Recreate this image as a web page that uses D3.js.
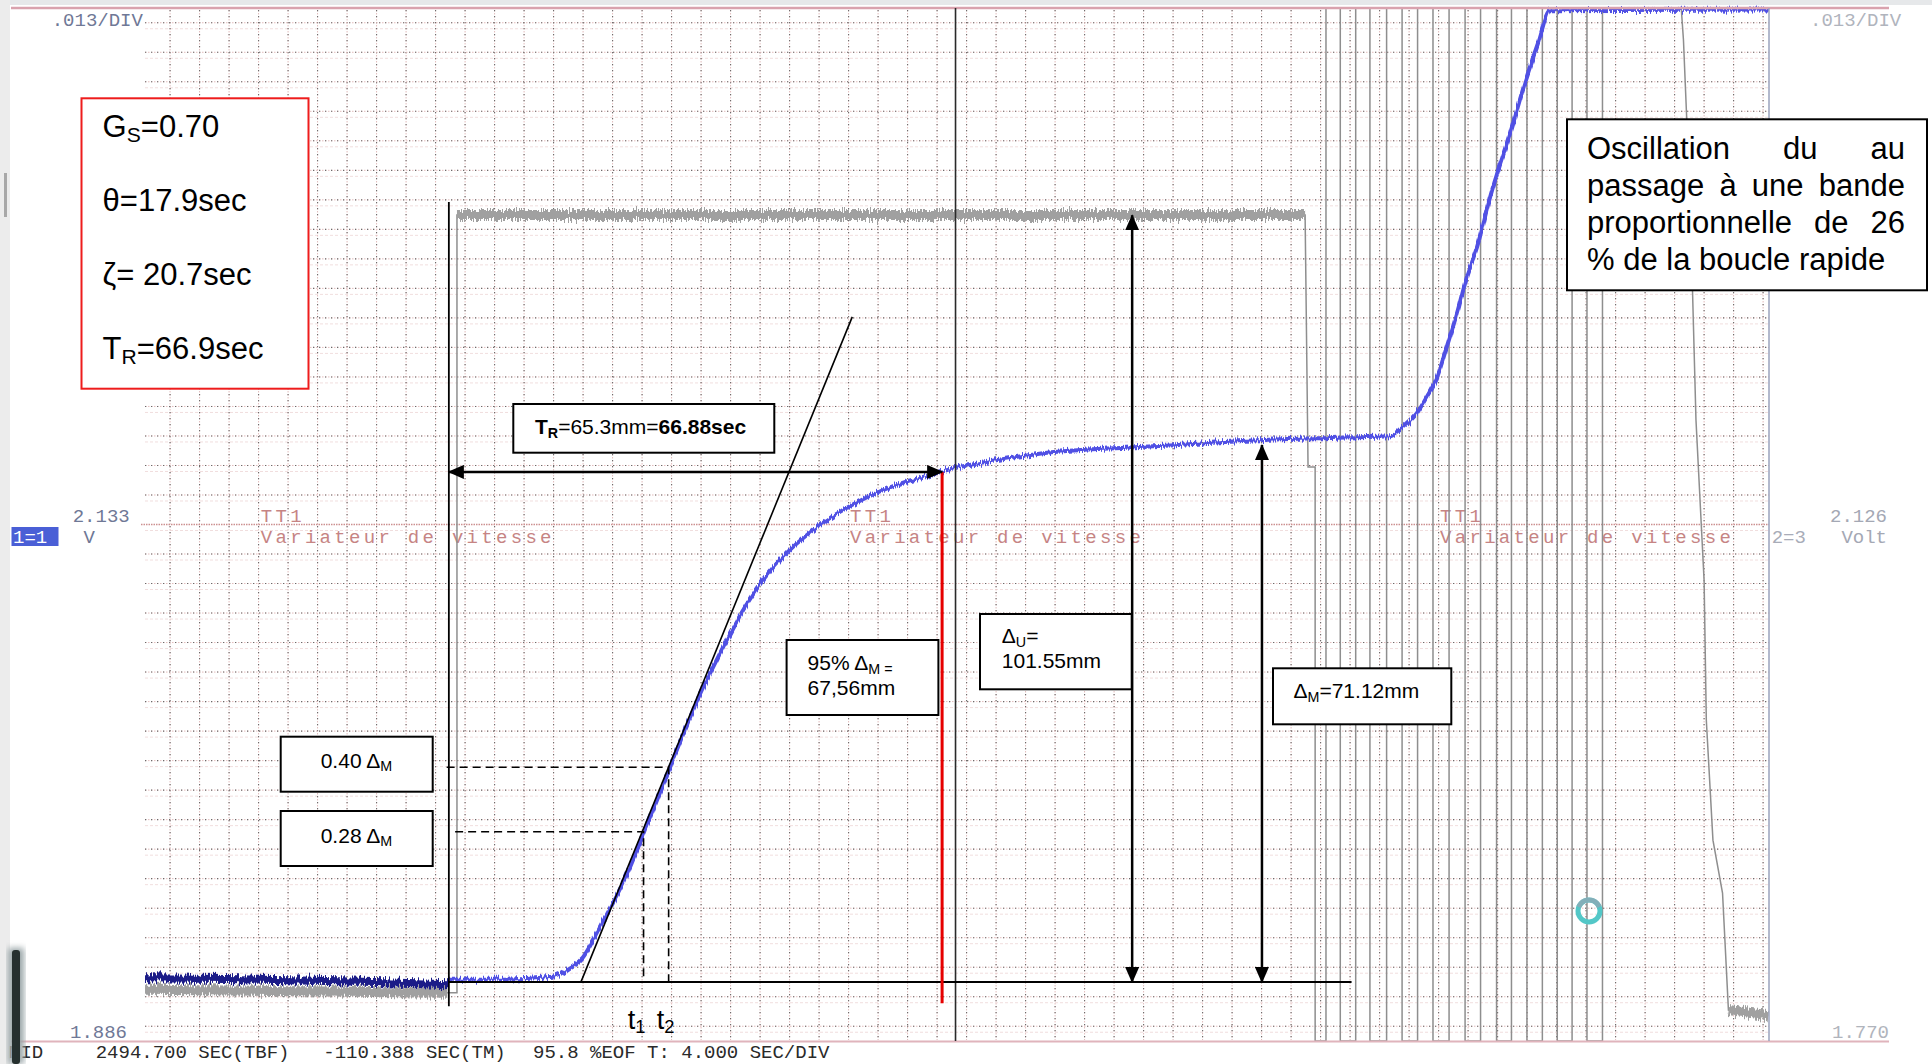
<!DOCTYPE html>
<html>
<head>
<meta charset="utf-8">
<title>TT1 Variateur de vitesse - réponse indicielle</title>
<script src="https://cdn.jsdelivr.net/npm/d3@7/dist/d3.min.js"></script>
<style>
  html, body { margin: 0; padding: 0; background: #fff; overflow: hidden; }
  svg { display: block; }
  .mono { font-family: "Liberation Mono", "DejaVu Sans Mono", monospace; }
  .sans { font-family: "Liberation Sans", Arial, sans-serif; }
</style>
</head>
<body>
<svg id="chart" width="1932" height="1064"></svg>
<script>
(function () {
    'use strict';

    // time: seconds from the step (recorder at 4 s / division)
    // level: mm of chart above the starting value

    var blueDarkTime  = [-41.2, -30, -20, -10, 0];
    var blueDarkLevel = [0.5, 0.4, 0.2, 0.0, -0.3];

    var blueTime  = [0, 7.0, 14.1, 16.4, 18.2, 19.6, 21.5, 23.2, 25.9, 27.7, 30.0, 33.2, 37.3, 40.3,
                     42.8, 45.9, 48.8, 51.3, 54.9, 58.5, 62.1, 65.8, 68.3, 74.2, 80.3, 92.4, 98.5,
                     108.1, 120.4, 127.7, 129.4, 131.3, 132.6, 134.0, 135.3, 136.7, 138.0, 139.4,
                     141.2, 143.9, 146.0, 147.7, 149.3, 179.0];
    var blueLevel = [0.3, 0.3, 0.7, 1.9, 3.3, 5.6, 9.1, 12.2, 18.4, 22.8, 28.5, 36.2, 44.6, 49.9,
                     53.5, 56.9, 59.4, 61.2, 63.3, 65.0, 66.3, 67.3, 68.0, 69.1, 70.0, 70.8, 71.1,
                     71.7, 72.1, 72.3, 73.5, 75.4, 77.5, 80.1, 84.1, 88.6, 93.4, 97.3,
                     104.0, 112.4, 119.4, 124.4, 128.7, 128.8];

    var greyTime  = [-41.2, -0.2, 1.1, 1.1, 116.1, 116.5, 117.46];
    var greyLevel = [-1.0, -1.4, -1.4, 101.6, 101.6, 68.2, 68.2];

    // square wave of the oscillation, alternating down / up edges
    var oscEdges = [117.46, 118.93, 120.87, 122.96, 124.89, 127.15, 129.25, 131.35, 133.44, 135.62,
                    137.79, 139.89, 142.06, 144.08, 146.18, 148.27, 150.29, 152.30, 154.32, 156.42];
    var oscLow = -7.8, oscHigh = 129;

    var greyTailTime  = [167.1, 167.4, 168.3, 169.1, 170.2, 170.5, 171.4, 172.7, 173.5, 178.9];
    var greyTailLevel = [129, 124.8, 103.6, 74.4, 53.2, 34.7, 18.8, 11.8, -3.7, -4.4];

    var deltaM = 71.12, deltaU = 101.55, riseTime = 66.88, deadTime = 17.9;
    var t1 = 26.4, t2 = 29.8;
    var fractions = [0.28, 0.40];
    var fractionTimes = [t1, t2];
    var fractionStart = [0.85, -0.3];
    var tangentTop = [54.7, 88.1];
    var cursorTime = 68.7;
    var deltaUTime = 92.65, deltaMTime = 110.25;
    var baselineEnd = 122.4;
    var stepSpan = [-3.2, 103.3];
    var redBottom = -2.8;

    var paramLines = [['G', 'S', '=0.70'], ['\u03b8', '', '=17.9sec'], ['\u03b6', '', '= 20.7sec'], ['T', 'R', '=66.9sec']];
    var noteLines = ['Oscillation du au', 'passage \u00e0 une bande', 'proportionnelle de 26', '% de la boucle rapide'];
    var statusParts = ['MID', '2494.700 SEC(TBF)', '-110.388 SEC(TM)', '95.8 %EOF T: 4.000 SEC/DIV'];
    var channelName = ['TT1', 'Variateur de vitesse'];
    var channelTimes = [-25.5, 54.4, 134.4];

    var svg = d3.select('#chart');
    var x = d3.scaleLinear().domain([-41.2, 179.0]).range([145, 1769]);
    var y = d3.scaleLinear().domain([-7.8, 129]).range([1041, 8]);
    var div = d3.scaleLinear().domain([0, 35]).range([1041, 8]);

    var defs = svg.append('defs');

    function jitter(id, amount, seed) {
        var f = defs.append('filter').attr('id', id)
            .attr('filterUnits', 'userSpaceOnUse')
            .attr('x', 0).attr('y', 0).attr('width', 1932).attr('height', 1064)
            .attr('color-interpolation-filters', 'sRGB');
        f.append('feTurbulence').attr('type', 'fractalNoise')
            .attr('baseFrequency', '0.85 0.02').attr('numOctaves', 2)
            .attr('seed', seed).attr('result', 'n');
        f.append('feColorMatrix').attr('in', 'n').attr('type', 'matrix')
            .attr('values', '0 0 0 0 0.5  0 1 0 0 0  0 0 0 0 0  0 0 0 0 1')
            .attr('result', 'm');
        f.append('feDisplacementMap').attr('in', 'SourceGraphic').attr('in2', 'm')
            .attr('scale', amount)
            .attr('xChannelSelector', 'R').attr('yChannelSelector', 'G');
    }
    jitter('jitterBig', 12, 7);
    jitter('jitterSmall', 9, 3);

    defs.append('marker').attr('id', 'arrow')
        .attr('viewBox', '0 0 16 14').attr('refX', 15).attr('refY', 7)
        .attr('markerWidth', 16).attr('markerHeight', 14)
        .attr('markerUnits', 'userSpaceOnUse')
        .attr('orient', 'auto-start-reverse')
        .append('path').attr('d', 'M0,0L16,7L0,14Z').attr('fill', '#000');

    defs.append('filter').attr('id', 'soft')
        .append('feGaussianBlur').attr('stdDeviation', 3);

    // window frame bits
    svg.append('rect').attr('x', 0).attr('y', 0).attr('width', 1932).attr('height', 5).attr('fill', '#e6e8ea');
    svg.append('rect').attr('x', 0).attr('y', 0).attr('width', 10).attr('height', 1064).attr('fill', '#ececec');
    svg.append('rect').attr('x', 4).attr('y', 173).attr('width', 3).attr('height', 44).attr('fill', '#a8a8a8');

    // ---- grid ----
    var grid = svg.append('g');
    var gridTimes = d3.range(55).map(function (k) { return -37.8 + 4 * k; });
    var gridRows = d3.range(35).map(function (k) { return k + 0.5; });

    grid.selectAll('line.rowfaint').data(gridRows).enter().append('line')
        .attr('x1', x.range()[0]).attr('x2', x.range()[1])
        .attr('y1', function (d) { return div(d) + 6; }).attr('y2', function (d) { return div(d) + 6; })
        .attr('stroke', '#f1dede').attr('stroke-width', 1).attr('stroke-dasharray', '3 2');

    function gridLine(sel) {
        sel.append('line').attr('class', 'pk')
            .attr('stroke', '#e3bdbd').attr('stroke-width', 1).attr('stroke-dasharray', '1.5 1.5');
        sel.append('line').attr('class', 'dk')
            .attr('stroke', '#6a6a6a').attr('stroke-width', 1.1).attr('stroke-dasharray', '1.2 4.8');
    }

    var cols = grid.selectAll('g.col').data(gridTimes).enter().append('g');
    gridLine(cols);
    cols.selectAll('line')
        .attr('x1', function () { return x(d3.select(this.parentNode).datum()); })
        .attr('x2', function () { return x(d3.select(this.parentNode).datum()); })
        .attr('y1', 10).attr('y2', 1040);

    var rows = grid.selectAll('g.row').data(gridRows.filter(function (d) { return d !== 17.5; })).enter().append('g');
    gridLine(rows);
    rows.selectAll('line')
        .attr('x1', x.range()[0]).attr('x2', x.range()[1])
        .attr('y1', function () { return div(d3.select(this.parentNode).datum()); })
        .attr('y2', function () { return div(d3.select(this.parentNode).datum()); });

    grid.append('line')
        .attr('x1', 141).attr('x2', x.range()[1]).attr('y1', div(17.5)).attr('y2', div(17.5))
        .attr('stroke', '#cc9090').attr('stroke-width', 1.3).attr('stroke-dasharray', '1.5 1');

    // ---- channel labels ----
    var lab = svg.append('g').attr('class', 'mono').attr('font-size', 19);
    channelTimes.forEach(function (t) {
        var g = lab.append('g').attr('fill', '#c68484').attr('letter-spacing', 3.3);
        g.append('text').attr('x', x(t)).attr('y', 521.7).text(channelName[0]);
        g.append('text').attr('x', x(t)).attr('y', 543).text(channelName[1]);
    });
    lab.append('text').attr('x', 51.7).attr('y', 26).attr('fill', '#6f7896').text('.013/DIV');
    lab.append('text').attr('x', 1810).attr('y', 26).attr('fill', '#b0b4bd').text('.013/DIV');
    lab.append('text').attr('x', 72.7).attr('y', 521.7).attr('fill', '#6f7896').text('2.133');
    lab.append('text').attr('x', 83.4).attr('y', 542.7).attr('fill', '#6f7896').text('V');
    lab.append('rect').attr('x', 11.5).attr('y', 527).attr('width', 47).attr('height', 19).attr('fill', '#4a5fd6');
    lab.append('text').attr('x', 13).attr('y', 543).attr('fill', '#fff').text('1=1');
    lab.append('text').attr('x', 1887).attr('y', 521.7).attr('text-anchor', 'end').attr('fill', '#a4a8b4').text('2.126');
    lab.append('text').attr('x', 1887).attr('y', 543).attr('text-anchor', 'end').attr('fill', '#a4a8b4').text('Volt');
    lab.append('text').attr('x', 1771.7).attr('y', 543).attr('fill', '#a8acb8').text('2=3');
    lab.append('text').attr('x', 70).attr('y', 1038).attr('fill', '#6f7896').text('1.886');
    lab.append('text').attr('x', 1832).attr('y', 1038).attr('fill', '#b0b4bc').text('1.770');
    var statusX = [9, 95.7, 323.3, 533];
    statusParts.forEach(function (s, i) {
        lab.append('text').attr('x', statusX[i]).attr('y', 1058.3).attr('fill', '#2a2a2a').text(s);
    });

    // ---- traces ----
    var line = d3.line().x(function (d) { return x(d[0]); }).y(function (d) { return y(d[1]); });
    var smooth = d3.line().x(function (d) { return x(d[0]); }).y(function (d) { return y(d[1]); })
        .curve(d3.curveMonotoneX);

    var greyPts = greyTime.map(function (t, i) { return [t, greyLevel[i]]; });
    var lvl = greyLevel[greyLevel.length - 1];
    oscEdges.forEach(function (t, i) {
        var next = i % 2 === 0 ? oscLow : oscHigh;
        greyPts.push([t, lvl]);
        greyPts.push([t, next]);
        lvl = next;
    });
    greyTailTime.forEach(function (t, i) { greyPts.push([t, greyTailLevel[i]]); });

    var traces = svg.append('g');
    traces.append('path').attr('d', line(greyPts))
        .attr('fill', 'none').attr('stroke', '#8e8e8e').attr('stroke-width', 1.5);

    var greyBands = [greyPts.slice(0, 2), greyPts.slice(3, 5), greyPts.slice(greyPts.length - 2)];
    greyBands.forEach(function (seg) {
        traces.append('path').attr('d', line(seg))
            .attr('fill', 'none').attr('stroke', '#a0a0a0').attr('stroke-width', 10)
            .attr('filter', 'url(#jitterBig)');
    });

    var darkPts = blueDarkTime.map(function (t, i) { return [t, blueDarkLevel[i]]; });
    traces.append('path').attr('d', line(darkPts))
        .attr('fill', 'none').attr('stroke', '#1c1c88').attr('stroke-width', 8)
        .attr('filter', 'url(#jitterBig)');

    var bluePts = blueTime.map(function (t, i) { return [t, blueLevel[i]]; });
    traces.append('path').attr('d', smooth(bluePts))
        .attr('fill', 'none').attr('stroke', '#5050e4').attr('stroke-width', 4)
        .attr('stroke-linejoin', 'round')
        .attr('filter', 'url(#jitterSmall)');

    // ---- frame ----
    svg.append('line').attr('x1', 11).attr('x2', 1889).attr('y1', 8).attr('y2', 8)
        .attr('stroke', '#d9a2ae').attr('stroke-width', 2.5);
    svg.append('line').attr('x1', 11).attr('x2', 1889).attr('y1', 1041.5).attr('y2', 1041.5)
        .attr('stroke', '#e0b4bc').attr('stroke-width', 2);
    svg.append('line').attr('x1', x.range()[1]).attr('x2', x.range()[1]).attr('y1', 8).attr('y2', 1041)
        .attr('stroke', '#9aa2bc').attr('stroke-width', 1.5);

    // ---- construction lines ----
    var ann = svg.append('g');
    ann.append('line').attr('x1', x(cursorTime)).attr('x2', x(cursorTime))
        .attr('y1', y(oscHigh)).attr('y2', y(oscLow))
        .attr('stroke', '#2a2a2a').attr('stroke-width', 1.6);
    ann.append('line').attr('x1', x(0)).attr('x2', x(0))
        .attr('y1', y(stepSpan[1])).attr('y2', y(stepSpan[0]))
        .attr('stroke', '#000').attr('stroke-width', 1.8);
    ann.append('line').attr('x1', x(0)).attr('x2', x(baselineEnd))
        .attr('y1', y(0)).attr('y2', y(0))
        .attr('stroke', '#000').attr('stroke-width', 2);
    ann.append('line').attr('x1', x(deadTime)).attr('x2', x(tangentTop[0]))
        .attr('y1', y(0)).attr('y2', y(tangentTop[1]))
        .attr('stroke', '#000').attr('stroke-width', 1.6);

    fractions.forEach(function (f, i) {
        var lv = f * deltaM, tt = fractionTimes[i];
        ann.append('path')
            .attr('d', 'M' + x(fractionStart[i]) + ',' + y(lv) + 'H' + x(tt) + 'V' + y(0))
            .attr('fill', 'none').attr('stroke', '#000').attr('stroke-width', 1.6)
            .attr('stroke-dasharray', '8 5');
    });

    ann.append('line').attr('x1', x(riseTime)).attr('x2', x(riseTime))
        .attr('y1', y(0.95 * deltaM)).attr('y2', y(redBottom))
        .attr('stroke', '#e60000').attr('stroke-width', 3);

    function arrow(x1, y1, x2, y2) {
        ann.append('line').attr('x1', x1).attr('y1', y1).attr('x2', x2).attr('y2', y2)
            .attr('stroke', '#000').attr('stroke-width', 2.5)
            .attr('marker-start', 'url(#arrow)').attr('marker-end', 'url(#arrow)');
    }
    arrow(x(0), y(0.95 * deltaM), x(riseTime), y(0.95 * deltaM));
    arrow(x(deltaUTime), y(deltaU), x(deltaUTime), y(0));
    arrow(x(deltaMTime), y(deltaM), x(deltaMTime), y(0));

    // ---- boxes ----
    var notes = svg.append('g').attr('class', 'sans');

    function rich(g, px, py, parts, size, anchor) {
        var t = g.append('text').attr('x', px).attr('y', py).attr('font-size', size)
            .attr('text-anchor', anchor || 'start');
        var shift = 0;
        parts.forEach(function (p) {
            if (!p.t) { return; }
            var s = t.append('tspan').text(p.t);
            var want = p.sub ? size * 0.17 : 0;
            if (want !== shift) { s.attr('dy', want - shift); shift = want; }
            if (p.sub) { s.attr('font-size', size * 0.68); }
            if (p.b) { s.attr('font-weight', 'bold'); }
        });
        return t;
    }

    function box(bx, by, bw, bh, color) {
        notes.append('rect').attr('x', bx).attr('y', by).attr('width', bw).attr('height', bh)
            .attr('fill', '#fff').attr('stroke', color || '#000').attr('stroke-width', 2);
    }

    box(81.5, 98.3, 227, 290.4, '#ee1c1c');
    paramLines.forEach(function (p, i) {
        rich(notes, 102.6, 137 + i * 74, [{ t: p[0] }, { t: p[1], sub: true }, { t: p[2] }], 31);
    });

    box(1567, 119.3, 360, 171);
    noteLines.forEach(function (ln, i) {
        var yy = 159.3 + i * 36.8;
        if (i === noteLines.length - 1) {
            notes.append('text').attr('x', 1587).attr('y', yy).attr('font-size', 31).text(ln);
            return;
        }
        var words = ln.split(' ');
        var nodes = words.map(function (w) {
            return notes.append('text').attr('y', yy).attr('font-size', 31).text(w);
        });
        var widths = nodes.map(function (n) { return n.node().getComputedTextLength(); });
        var gap = (318 - d3.sum(widths)) / (words.length - 1);
        var cx = 1587;
        nodes.forEach(function (n, j) { n.attr('x', cx); cx += widths[j] + gap; });
    });

    box(513.3, 404, 261, 48.7);
    rich(notes, 535, 434.3, [{ t: 'T', b: true }, { t: 'R', sub: true, b: true }, { t: '=65.3mm=' }, { t: '66.88sec', b: true }], 21);

    box(786.6, 640, 151.8, 75);
    rich(notes, 807.6, 670, [{ t: '95% \u0394' }, { t: 'M =', sub: true }], 21);
    rich(notes, 807.6, 695, [{ t: '67,56mm' }], 21);

    box(980, 614, 151.7, 75.3);
    rich(notes, 1001.8, 643.3, [{ t: '\u0394' }, { t: 'U', sub: true }, { t: '=' }], 21);
    rich(notes, 1001.8, 668.3, [{ t: '101.55mm' }], 21);

    box(1273, 668.3, 178.3, 56);
    rich(notes, 1293.5, 698.3, [{ t: '\u0394' }, { t: 'M', sub: true }, { t: '=71.12mm' }], 21);

    box(280.7, 736.7, 152, 55);
    rich(notes, 320.7, 767.7, [{ t: '0.40 \u0394' }, { t: 'M', sub: true }], 21);
    box(280.7, 811, 152, 55);
    rich(notes, 320.7, 842.7, [{ t: '0.28 \u0394' }, { t: 'M', sub: true }], 21);

    rich(notes, x(t1) + 2, 1028.5, [{ t: 't' }, { t: '1', sub: true }], 27, 'end');
    rich(notes, x(t2) - 12, 1028.5, [{ t: 't' }, { t: '2', sub: true }], 27);

    // ---- cursor icon and window shadow ----
    svg.append('circle').attr('cx', 1589).attr('cy', 911).attr('r', 11)
        .attr('fill', 'none').attr('stroke', '#53c7c7').attr('stroke-width', 5);
    svg.append('path').attr('d', d3.arc()({ innerRadius: 8.5, outerRadius: 13.5, startAngle: -1.2, endAngle: 1.2 }))
        .attr('transform', 'translate(1589,911)').attr('fill', '#8fa9b5').attr('opacity', 0.8);

    svg.append('rect').attr('x', 8).attr('y', 948).attr('width', 16).attr('height', 116)
        .attr('fill', '#9aa6a8').attr('filter', 'url(#soft)');
    svg.append('rect').attr('x', 12).attr('y', 950).attr('width', 8).attr('height', 114).attr('rx', 3)
        .attr('fill', '#26302f');
})();
</script>
</body>
</html>
